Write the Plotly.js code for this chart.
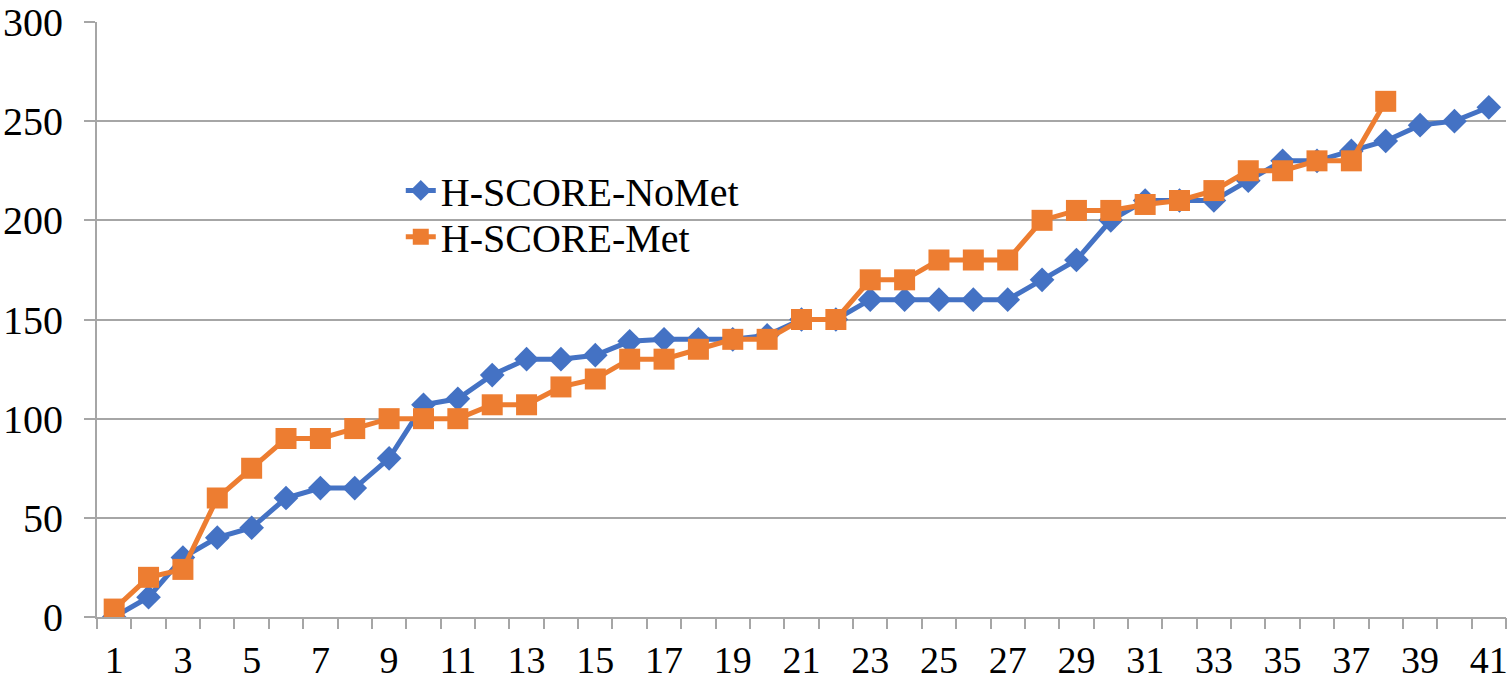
<!DOCTYPE html>
<html>
<head>
<meta charset="utf-8">
<script src="https://cdn.plot.ly/plotly-3.0.1.min.js"></script>
<style>html,body{margin:0;padding:0;background:#fff;}#chart{width:1508px;height:681px;}</style>
</head>
<body>
<div id="chart"></div>
<script>
const categories = [1,2,3,4,5,6,7,8,9,10,11,12,13,14,15,16,17,18,19,20,21,22,23,24,25,26,27,28,29,30,31,32,33,34,35,36,37,38,39,40,41];
const noMetName = 'H-SCORE-NoMet';
const metName = 'H-SCORE-Met';
const noMetValues = [0,10,30,40,45,60,65,65,80,107,110,122,130,130,132,139,140,140,140,142,150,150,160,160,160,160,160,170,180,200,210,210,210,220,230,230,235,240,248,250,257];
const metValues = [4,20,24,60,75,90,90,95,100,100,100,107,107,116,120,130,130,135,140,140,150,150,170,170,180,180,180,200,205,205,208,210,215,225,225,230,230,260];
const xTickLabels = ['1','3','5','7','9','11','13','15','17','19','21','23','25','27','29','31','33','35','37','39','41'];
const yTickValues = [0,50,100,150,200,250,300];

const fontFamily = '"Liberation Serif", "Times New Roman", serif';
const gray = '#a6a6a6';

// category boundaries (between categories) for the x tick marks
const boundaries = [categories[0] - 0.5].concat(categories.map(c => c + 0.5));
const xRange = [categories[0] - 0.5, categories[categories.length - 1] + 0.5];

const traces = [
  {
    x: categories.slice(0, noMetValues.length), y: noMetValues, name: noMetName,
    type: 'scatter', mode: 'lines+markers',
    line: {color: '#4472C4', width: 5},
    marker: {symbol: 'diamond', size: 19, color: '#4472C4'},
    legend: 'legend'
  },
  {
    x: categories.slice(0, metValues.length), y: metValues, name: metName,
    type: 'scatter', mode: 'lines+markers',
    line: {color: '#ED7D31', width: 5},
    marker: {symbol: 'square', size: 21, color: '#ED7D31'},
    legend: 'legend2'
  },
  {
    // invisible helper so the overlaid tick axis is drawn
    x: [xRange[0]], y: [-50], xaxis: 'x2', yaxis: 'y', type: 'scatter', mode: 'markers',
    marker: {opacity: 0}, showlegend: false, hoverinfo: 'skip'
  }
];

const legendCommon = {
  xanchor: 'left', yanchor: 'middle',
  bgcolor: 'rgba(0,0,0,0)',
  font: {family: fontFamily, size: 40, color: '#000000'},
  itemwidth: 30
};

const layout = {
  width: 1508, height: 681,
  margin: {l: 97, r: 2, t: 22, b: 64},
  paper_bgcolor: '#ffffff', plot_bgcolor: '#ffffff',
  font: {family: fontFamily, size: 40, color: '#000000'},
  showlegend: true,
  legend: Object.assign({x: 0.2156, y: 0.717}, legendCommon),
  legend2: Object.assign({x: 0.2156, y: 0.639}, legendCommon),
  xaxis: {
    type: 'linear', range: xRange,
    tickmode: 'array', tickvals: xTickLabels.map(Number), ticktext: xTickLabels,
    ticks: '', showgrid: false, zeroline: false,
    showline: true, linecolor: gray, linewidth: 2,
    ticklabelstandoff: 8, ticklabeloverflow: 'allow',
    tickfont: {family: fontFamily, size: 38, color: '#000000'}
  },
  xaxis2: {
    type: 'linear', overlaying: 'x', side: 'bottom', anchor: 'y', range: xRange,
    tickmode: 'array', tickvals: boundaries, showticklabels: false,
    ticks: 'outside', ticklen: 11, tickwidth: 2, tickcolor: gray,
    showgrid: false, zeroline: false, showline: false
  },
  yaxis: {
    range: [0, 300], tickmode: 'array', tickvals: yTickValues,
    ticks: 'outside', ticklen: 11, tickwidth: 2, tickcolor: gray,
    showgrid: true, gridcolor: gray, gridwidth: 2, zeroline: false,
    showline: true, linecolor: gray, linewidth: 2,
    ticklabelstandoff: 13, ticklabeloverflow: 'allow',
    tickfont: {family: fontFamily, size: 40, color: '#000000'}
  }
};

Plotly.newPlot('chart', traces, layout, {displayModeBar: false, staticPlot: true});
</script>
</body>
</html>
